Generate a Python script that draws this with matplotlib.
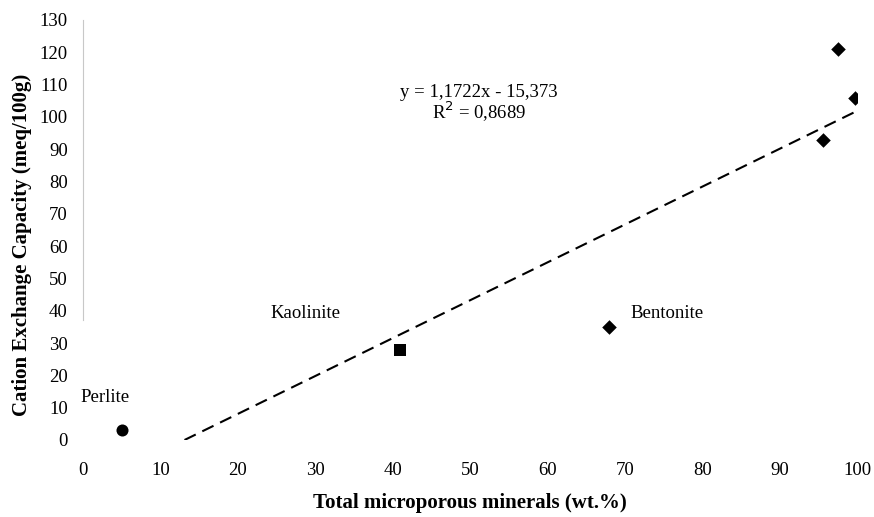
import matplotlib
matplotlib.use("Agg")
import matplotlib.pyplot as plt
import numpy as np

# data
names = ["Perlite", "Kaolinite", "Bentonite", "Zeolite A", "Zeolite B", "Zeolite C"]
x_vals = [5, 41, 68, 97.5, 99.7, 95.6]
y_vals = [3, 28, 35, 121, 106, 93]
markers = ["o", "s", "D", "D", "D", "D"]
sizes = [75, 70, 55, 55, 55, 55]
slope, intercept = 1.1722, -15.373
r2 = 0.8689
x_ticks = list(range(0, 101, 10))
y_ticks = list(range(0, 131, 10))

plt.rcParams['font.family'] = ['Liberation Serif', 'DejaVu Serif']

fig = plt.figure(figsize=(8.74, 5.17), dpi=100)
ax = fig.add_axes([83/874, 1-440/517, (857-83)/874, (440-20)/517])

for xv, yv, m, s in zip(x_vals, y_vals, markers, sizes):
    ax.scatter([xv], [yv], marker=m, s=s, color="black", zorder=3, linewidths=0)

x0 = -intercept / slope
xl = np.array([x0, 100])
ax.plot(xl, slope * xl + intercept, linestyle=(0, (6, 3.5)), color="black", lw=1.5)

ax.text(2.8, 13, "Perlite", fontsize=13.5, ha="center", va="center")
ax.text(28.7, 39, "Kaolinite", fontsize=13.5, ha="center", va="center")
ax.text(75.4, 39, "Bentonite", fontsize=13.5, ha="center", va="center")
ax.text(51.2, 107.7, "y = 1,1722x - 15,373", fontsize=13.5, ha="center", va="center")
ax.text(51.2, 101.5, "R$^2$ = 0,8689", fontsize=13.5, ha="center", va="center")

ax.set_xlim(0, 100)
ax.set_ylim(0, 130)
ax.set_xticks(x_ticks)
ax.set_yticks(y_ticks)
ax.tick_params(axis="both", length=0, labelsize=13.5)
ax.tick_params(axis="x", pad=16)
ax.tick_params(axis="y", pad=11)
for sp in ["top", "right", "bottom"]:
    ax.spines[sp].set_visible(False)
ax.spines["left"].set_color("#c8c8c8")
ax.spines["left"].set_linewidth(0.8)
ax.spines["left"].set_bounds(37, 130)

ax.set_xlabel("Total microporous minerals (wt.%)", fontsize=15, fontweight="bold", labelpad=10)
ax.set_ylabel("Cation Exchange Capacity (meq/100g)", fontsize=15, fontweight="bold")
ax.yaxis.set_label_coords(-0.066, 0.464)

fig.savefig("out.png", dpi=100)
